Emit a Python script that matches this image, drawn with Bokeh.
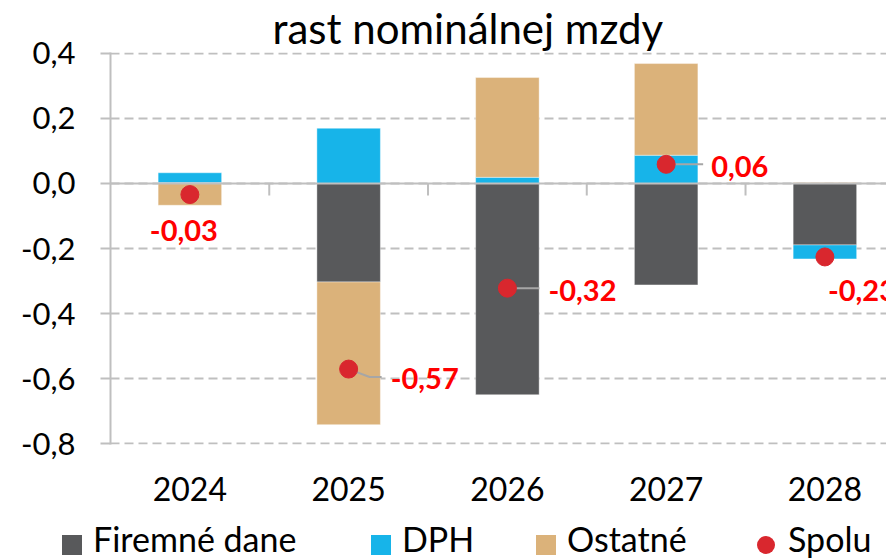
import numpy as np
from bokeh.plotting import figure
from bokeh.layouts import column
from bokeh.models import Range1d, FixedTicker, ColumnDataSource, Span, Div
from bokeh.core.properties import value
from bokeh.embed import file_html
from bokeh.resources import INLINE

# ---------------- data ----------------
years = ["2024", "2025", "2026", "2027", "2028"]
firemne_dane = [0.003, -0.303, -0.650, -0.312, -0.189]
dph = [0.030, 0.170, 0.019, 0.087, -0.043]
ostatne = [-0.067, -0.439, 0.307, 0.282, 0.003]
spolu = [-0.034, -0.571, -0.322, 0.059, -0.226]
y_ticks = [-0.8, -0.6, -0.4, -0.2, 0.0, 0.2, 0.4]
y_tick_labels = ["-0,8", "-0,6", "-0,4", "-0,2", "0,0", "0,2", "0,4"]
series_names = ["Firemné dane", "DPH", "Ostatné"]
spolu_name = "Spolu"
title_text = "rast nominálnej mzdy"

# ---------------- styles ----------------
colors = ["#58595B", "#17B4E9", "#DBB27A"]
dot_color = "#D9272E"
label_color = "#FF0000"
grid_color = "#BFBFBF"
FONT = "Lato"

W = 886
H_MAIN, H_LEG = 520, 40
B_LEFT, B_RIGHT, B_TOP, B_BOTTOM = 110, 0, 51, 76
X0, X1 = -0.5, 4.388
ppy0 = 391 / 1.2
Y0, Y1 = -0.8 - 1 / ppy0, 0.4 + 1 / ppy0
frame_w = W - B_LEFT - B_RIGHT
frame_h = H_MAIN - B_TOP - B_BOTTOM
ppx = frame_w / (X1 - X0)
ppy = frame_h / (Y1 - Y0)

p = figure(width=W, height=H_MAIN, x_range=Range1d(X0, X1), y_range=Range1d(Y0, Y1),
           output_backend="svg", toolbar_location=None, title=title_text,
           min_border_left=B_LEFT, min_border_right=B_RIGHT,
           min_border_top=B_TOP, min_border_bottom=B_BOTTOM)
p.outline_line_color = None
p.background_fill_color = "white"
p.border_fill_color = "white"

# title
p.title.text_font = FONT
p.title.text_font_size = "42px"
p.title.text_font_style = "normal"
p.title.text_color = "black"
p.title.align = "left"
p.title.offset = 162
p.title.standoff = 0

# grid
p.xgrid.visible = False
p.ygrid.grid_line_color = grid_color
p.ygrid.grid_line_width = 2
p.ygrid.grid_line_dash = "9 5"

# y axis
p.yaxis.ticker = FixedTicker(ticks=y_ticks)
p.yaxis.major_label_overrides = {t: l for t, l in zip(y_ticks, y_tick_labels)}
p.yaxis.axis_line_color = grid_color
p.yaxis.axis_line_width = 2
p.yaxis.major_tick_line_color = grid_color
p.yaxis.major_tick_line_width = 2
p.yaxis.major_tick_out = 10
p.yaxis.major_tick_in = 0
p.yaxis.minor_tick_line_color = None
p.yaxis.major_label_standoff = 25
p.yaxis.major_label_text_font = FONT
p.yaxis.major_label_text_font_size = "31px"
p.yaxis.major_label_text_color = "black"

# x axis
x = np.arange(len(years))
p.xaxis.ticker = FixedTicker(ticks=[int(i) for i in x])
p.xaxis.major_label_overrides = {int(i): y for i, y in zip(x, years)}
p.xaxis.axis_line_color = None
p.xaxis.major_tick_line_color = None
p.xaxis.minor_tick_line_color = None
p.xaxis.major_label_standoff = 26
p.xaxis.major_label_text_font = FONT
p.xaxis.major_label_text_font_size = "32px"
p.xaxis.major_label_text_color = "black"

# stacked bars (positive and negative stacks)
n = len(years)
pos = np.zeros(n)
neg = np.zeros(n)
for vals, color in zip([firemne_dane, dph, ostatne], colors):
    v = np.array(vals, dtype=float)
    bottom = np.where(v >= 0, pos, neg)
    top = bottom + v
    pos = np.where(v >= 0, top, pos)
    neg = np.where(v < 0, top, neg)
    p.vbar(x=x, bottom=bottom, top=top, width=0.4, fill_color=color,
           line_color="white", line_width=0.8, line_alpha=0.5)

# zero line and category boundary ticks
p.add_layout(Span(location=0, dimension="width", line_color=grid_color, line_width=2))
bx = x[:-1] + 0.5
p.segment(x0=bx, y0=np.zeros(len(bx)), x1=bx, y1=np.full(len(bx), -12 / ppy),
          line_color=grid_color, line_width=2)

# leader lines (pixel offsets from the dot)
leaders = {1: [(0, 0), (21, 8), (33, 8)], 2: [(0, 0), (32, 0)], 3: [(0, 0), (37, 0)]}
xs, ys = [], []
for i, pts in leaders.items():
    xs.append([x[i] + dx / ppx for dx, dy in pts])
    ys.append([spolu[i] - dy / ppy for dx, dy in pts])
p.multi_line(xs=xs, ys=ys, line_color="#A6A6A6", line_width=2)

# total dots
p.scatter(x=x, y=spolu, size=18, fill_color=dot_color, line_color=dot_color)

# data labels
lab_text = [f"{v:.2f}".replace(".", ",") for v in spolu]
lab_align = ["center", "left", "left", "left", "left"]
lab_dx = [-6, 42, 41, 45, 3]
lab_dy = [36, 9, 2, 2, 34]
for al in sorted(set(lab_align)):
    idx = [i for i, a in enumerate(lab_align) if a == al]
    src = ColumnDataSource(dict(x=[x[i] for i in idx], y=[spolu[i] for i in idx],
                                t=[lab_text[i] for i in idx],
                                dx=[lab_dx[i] for i in idx], dy=[lab_dy[i] for i in idx]))
    p.text(x="x", y="y", text="t", x_offset="dx", y_offset="dy", source=src,
           text_font=value(FONT), text_font_style="bold", text_font_size="29px",
           text_color=label_color, text_align=al, text_baseline="middle")

# ---------------- legend strip (HTML text) ----------------
leg_labels = series_names + [spolu_name]
leg_colors = colors + [dot_color]
leg_shapes = ["0", "0", "0", "50%"]       # border-radius: square / circle
leg_sizes = [20, 20, 20, 18]
leg_left = [62, 371, 536, 757]
leg_top = [15, 15, 15, 16]
parts = []
for lab, c, rad, s, lx, ty in zip(leg_labels, leg_colors, leg_shapes, leg_sizes, leg_left, leg_top):
    parts.append(f'<span style="position:absolute;left:{lx}px;top:{ty}px;width:{s}px;height:{s}px;'
                 f'background:{c};border-radius:{rad};"></span>')
    parts.append(f'<span style="position:absolute;left:{lx + 31}px;top:2px;line-height:34px;'
                 f'white-space:nowrap;">{lab}</span>')
html = ('<div style="position:relative;width:886px;height:40px;font-family:Lato;'
        'font-size:34px;color:black;">' + "".join(parts) + '</div>')
leg = Div(text=html, width=W, height=H_LEG, margin=0, styles={"overflow": "visible"})

layout = column(p, leg, spacing=0)
open("out.html", "w").write(file_html(layout, INLINE))
